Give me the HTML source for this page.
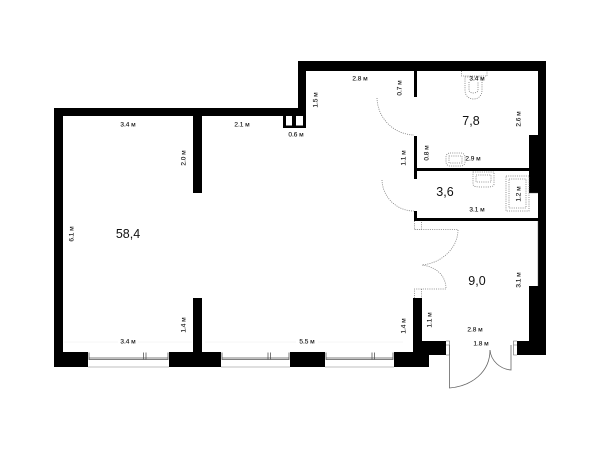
<!DOCTYPE html>
<html lang="ru">
<head>
<meta charset="utf-8">
<style>
html,body{margin:0;padding:0;background:#fff;width:600px;height:450px;overflow:hidden}
svg{display:block}
text{font-family:"Liberation Sans",sans-serif;fill:#111}
.s{font-size:6.5px;text-anchor:middle;dominant-baseline:central;font-weight:400;stroke:#111;stroke-width:.12px}
.r{font-size:12.5px;text-anchor:middle;dominant-baseline:central}
.d{fill:none;stroke:#777;stroke-width:.8;stroke-dasharray:1 1.2}
.w{fill:none;stroke:#555;stroke-width:.8}
.g{fill:none;stroke:#666;stroke-width:.8}
</style>
</head>
<body>
<svg width="600" height="450" viewBox="0 0 600 450" xmlns="http://www.w3.org/2000/svg">
<rect width="600" height="450" fill="#fff"/>
<g fill="#000">
<!-- outer walls -->
<rect x="298" y="61" width="248" height="10"/>
<rect x="298" y="61" width="8" height="55"/>
<rect x="54" y="108" width="252" height="8"/>
<rect x="54" y="108" width="9" height="259"/>
<rect x="538" y="61" width="8" height="294"/>
<rect x="529" y="135" width="17" height="58"/>
<rect x="529" y="286" width="17" height="69"/>
<rect x="517" y="341" width="29" height="14"/>
<rect x="422" y="341" width="24" height="14"/>
<rect x="413" y="298" width="9" height="57"/>
<rect x="54" y="352" width="34" height="15"/>
<rect x="169" y="352" width="52" height="15"/>
<rect x="290" y="352" width="35" height="15"/>
<rect x="394" y="352" width="35" height="15"/>
<!-- inner walls -->
<rect x="193" y="116" width="9" height="77"/>
<rect x="193" y="298" width="9" height="54"/>
<rect x="414" y="71" width="3" height="26"/>
<rect x="414" y="136" width="3" height="43"/>
<rect x="414" y="211" width="3" height="10"/>
<rect x="414" y="168" width="115" height="3"/>
<rect x="414" y="218" width="124" height="3"/>
<!-- closet -->
<rect x="283" y="116" width="3" height="12"/>
<rect x="292" y="116" width="4" height="12"/>
<rect x="303" y="116" width="3" height="12"/>
<rect x="283" y="125.500" width="23" height="2.500"/>
</g>
<!-- thin edges -->
<path class="w" d="M529 193H538M538 221V286" stroke-opacity=".5"/>
<!-- windows -->
<g class="w">
<path d="M88 367H169" stroke="#aaa"/>
<path d="M89 352.500V359.500H168V352.500M89 358H168M143.500 352.500V359.500M146 352.500V359.500"/>
<path d="M221 367H290" stroke="#aaa"/>
<path d="M222 352.500V359.500H289V352.500M222 358H289M268 352.500V359.500M270.500 352.500V359.500"/>
<path d="M325 367H394" stroke="#aaa"/>
<path d="M326 352.500V359.500H393V352.500M326 358H393M372 352.500V359.500M374.500 352.500V359.500"/>
</g>
<!-- interior doors -->
<path class="d" d="M377 98A38 38 0 0 0 414 135"/>
<path class="d" d="M382 180A32 32 0 0 0 414 211"/>
<path class="d" d="M414.500 221V229.500H421.500V221M414.500 229.500H458C458 248 442 263 422 265C437 267 446 276 446 289H414.500V298M421.500 289V298"/>
<!-- entrance doors -->
<g class="g">
<path d="M449.500 345V388C472 386 490 372 490 350"/>
<path d="M511 345V370C500 369 491 361 490 350"/>
<path d="M446 341H449.500V355H446M517 341H513.500V355H517M446 345H449.500M517 345H513.500" stroke-width=".6"/>
</g>
<!-- fixtures -->
<g class="d">
<path d="M461.500 71V76H487V71"/>
<path d="M465 77H482V90C482 96 478 99 473.500 99C469 99 465 96 465 90Z"/>
<path d="M469 82V90C469 94 478 94 478 90V82"/>
<rect x="446" y="153" width="19" height="13" rx="4"/>
<path d="M449 156H462V163H449Z"/>
<path d="M473 172H494V184C494 187 490 187 484 187C477 187 473 187 473 184Z"/>
<path d="M476 175H491V182H476Z"/>
<rect x="506" y="176" width="23" height="35"/>
<rect x="509" y="179" width="17" height="29"/>
</g>
<!-- faint dimension lines -->
<g stroke="#eee" stroke-width=".5" fill="none">
<path d="M64 342H118M138 342H192M205 342H296M318 342H403"/>
</g>
<!-- small labels -->
<text class="s" x="128" y="125">3.4 м</text>
<text class="s" x="242" y="125">2.1 м</text>
<text class="s" x="296" y="135">0.6 м</text>
<text class="s" x="360" y="79">2.8 м</text>
<text class="s" x="477" y="79">3.4 м</text>
<text class="s" x="473" y="159">2.9 м</text>
<text class="s" x="477" y="210">3.1 м</text>
<text class="s" x="128" y="342">3.4 м</text>
<text class="s" x="307" y="342">5.5 м</text>
<text class="s" x="475" y="330">2.8 м</text>
<text class="s" x="481" y="344">1.8 м</text>
<text class="s" transform="translate(72 234) rotate(-90)">6.1 м</text>
<text class="s" transform="translate(184 158) rotate(-90)">2.0 м</text>
<text class="s" transform="translate(184 325) rotate(-90)">1.4 м</text>
<text class="s" transform="translate(316 100) rotate(-90)">1.5 м</text>
<text class="s" transform="translate(400 88) rotate(-90)">0.7 м</text>
<text class="s" transform="translate(404 158) rotate(-90)">1.1 м</text>
<text class="s" transform="translate(427 153) rotate(-90)">0.8 м</text>
<text class="s" transform="translate(519 119) rotate(-90)">2.6 м</text>
<text class="s" transform="translate(519 194) rotate(-90)">1.2 м</text>
<text class="s" transform="translate(519 280) rotate(-90)">3.1 м</text>
<text class="s" transform="translate(404 326) rotate(-90)">1.4 м</text>
<text class="s" transform="translate(430 320) rotate(-90)">1.1 м</text>
<!-- room labels -->
<text class="r" x="128" y="234">58,4</text>
<text class="r" x="471" y="121">7,8</text>
<text class="r" x="445" y="192">3,6</text>
<text class="r" x="477" y="281">9,0</text>
</svg>
</body>
</html>
